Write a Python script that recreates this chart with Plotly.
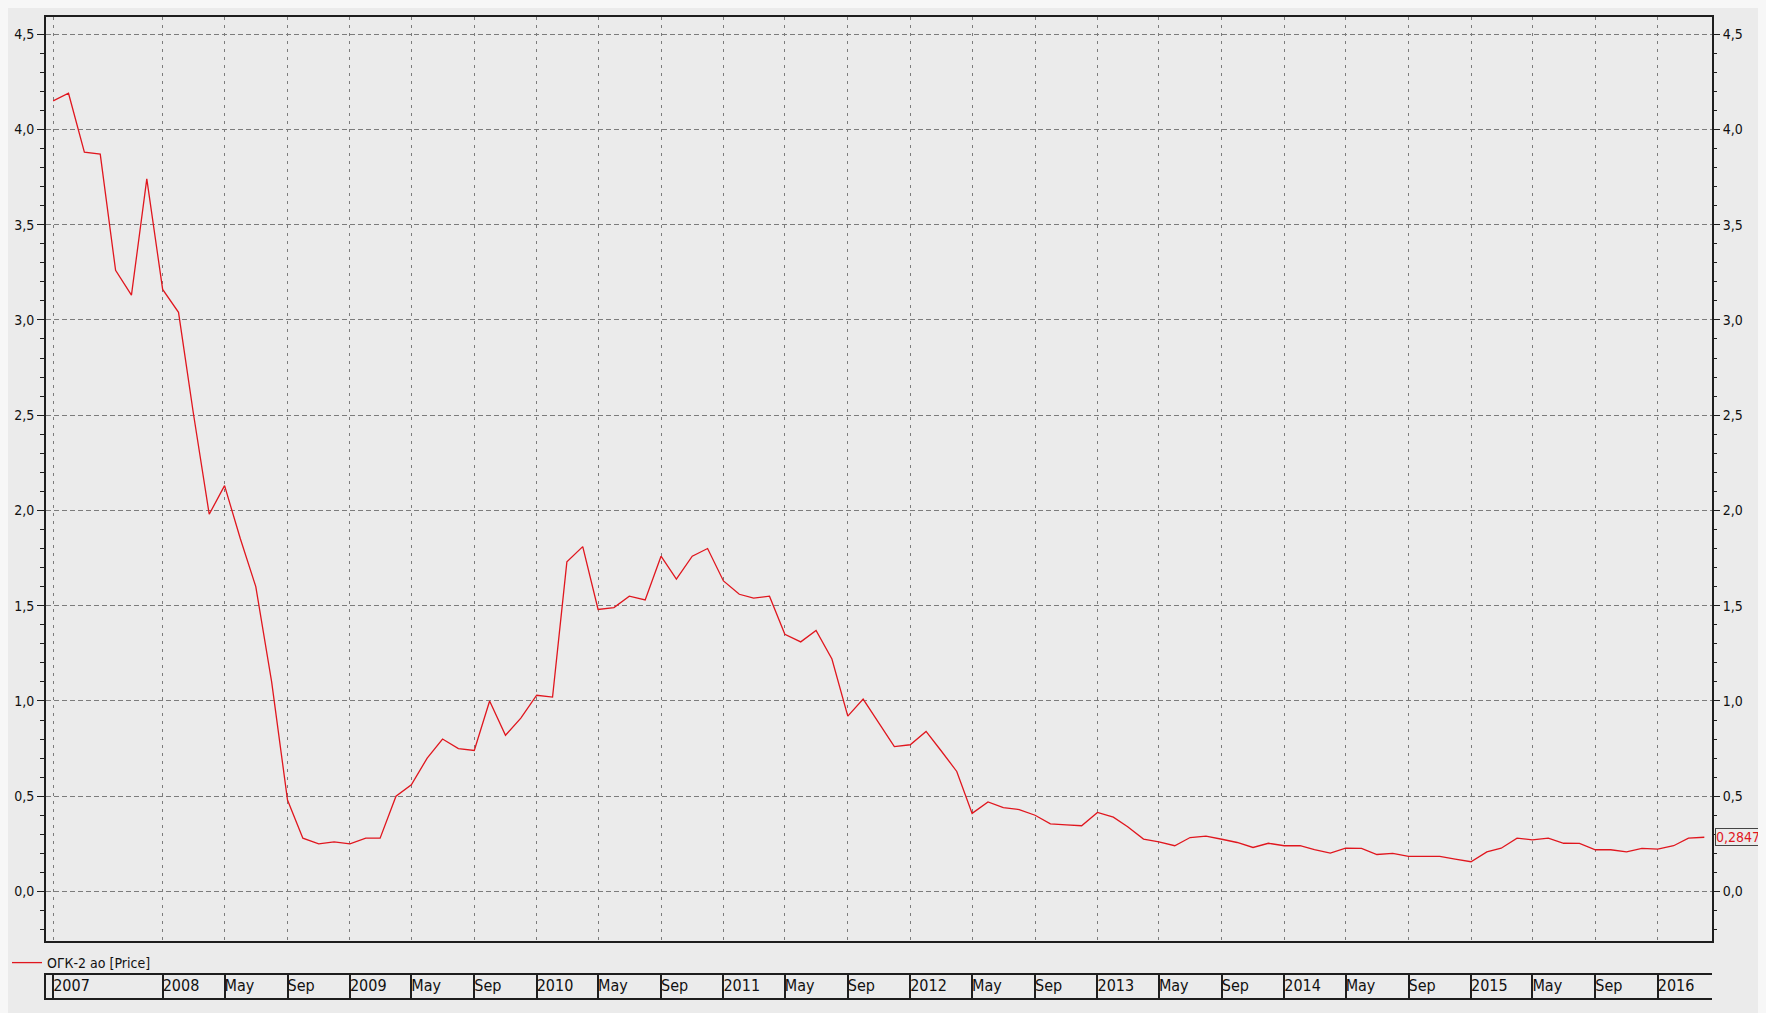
import plotly.graph_objects as go
import pandas as pd

# ---------------- data (monthly closing price, Jun 2007 .. Apr 2016) ----------------
START_MONTH = "2007-06-01"
price_2007 = [4.15, 4.19, 3.88, 3.87, 3.26, 3.13, 3.74]                     # Jun..Dec
price_2008 = [3.16, 3.04, 2.51, 1.98, 2.13, 1.85, 1.60, 1.10, 0.48, 0.28, 0.25, 0.26]
price_2009 = [0.25, 0.28, 0.28, 0.50, 0.56, 0.70, 0.80, 0.75, 0.74, 1.00, 0.82, 0.91]
price_2010 = [1.03, 1.02, 1.73, 1.81, 1.48, 1.49, 1.55, 1.53, 1.76, 1.64, 1.76, 1.80]
price_2011 = [1.63, 1.56, 1.54, 1.55, 1.35, 1.31, 1.37, 1.22, 0.92, 1.01, 0.88, 0.76]
price_2012 = [0.77, 0.84, 0.74, 0.63, 0.41, 0.47, 0.44, 0.43, 0.40, 0.355, 0.35, 0.345]
price_2013 = [0.415, 0.39, 0.34, 0.275, 0.26, 0.24, 0.283, 0.29, 0.274, 0.257, 0.231, 0.253]
price_2014 = [0.24, 0.24, 0.219, 0.201, 0.227, 0.226, 0.194, 0.20, 0.184, 0.184, 0.184, 0.17]
price_2015 = [0.156, 0.208, 0.227, 0.28, 0.271, 0.28, 0.253, 0.252, 0.219, 0.219, 0.208, 0.226]
price_2016 = [0.222, 0.24, 0.28, 0.2847]                                     # Jan..Apr

prices = (price_2007 + price_2008 + price_2009 + price_2010 + price_2011 +
          price_2012 + price_2013 + price_2014 + price_2015 + price_2016)
dates = pd.date_range(START_MONTH, periods=len(prices), freq="MS")

series_name = "ОГК-2 ао [Price]"
last_value_label = "0,2847"

# date band (grid positions and labels)
band_dates = ["2007-06-01",
              "2008-01-01", "2008-05-01", "2008-09-01",
              "2009-01-01", "2009-05-01", "2009-09-01",
              "2010-01-01", "2010-05-01", "2010-09-01",
              "2011-01-01", "2011-05-01", "2011-09-01",
              "2012-01-01", "2012-05-01", "2012-09-01",
              "2013-01-01", "2013-05-01", "2013-09-01",
              "2014-01-01", "2014-05-01", "2014-09-01",
              "2015-01-01", "2015-05-01", "2015-09-01",
              "2016-01-01"]
band_labels = ["2007",
               "2008", "May", "Sep",
               "2009", "May", "Sep",
               "2010", "May", "Sep",
               "2011", "May", "Sep",
               "2012", "May", "Sep",
               "2013", "May", "Sep",
               "2014", "May", "Sep",
               "2015", "May", "Sep",
               "2016"]

x_range = ["2007-05-18", "2016-04-16"]
y_range = [-0.26, 4.59]

# ---------------- style ----------------
FONT = "DejaVu Sans Condensed, Liberation Sans Narrow, Arial Narrow, sans-serif"
BG = "#ebebeb"
AXC = "#1e1e1e"
GRIDC = "#7c7c7c"
RED = "#e0161e"

# the page body keeps its default 8 px margin (white strip at top / left)
W, H = 1758, 1005
ML, MR, MT, MB = 38, 54, 9, 15
PH = H - MT - MB
main_bottom = (H - MB - 933) / PH
band_top = (H - MB - 967) / PH

fig = go.Figure()
fig.add_trace(go.Scatter(x=dates, y=prices, mode="lines", name=series_name,
                         line=dict(color=RED, width=1.3), xaxis="x", yaxis="y"))
# same series bound to the right-hand axis (invisible) so that axis is drawn
fig.add_trace(go.Scatter(x=dates, y=prices, mode="lines", showlegend=False,
                         opacity=0, hoverinfo="skip", xaxis="x", yaxis="y2"))
# date band labels
fig.add_trace(go.Scatter(x=band_dates, y=[0.5] * len(band_dates), mode="text",
                         text=band_labels, textposition="middle right",
                         textfont=dict(family=FONT, size=16, color="#111"),
                         showlegend=False, hoverinfo="skip", xaxis="x2", yaxis="y3"))

ytick_common = dict(range=y_range, tick0=0, dtick=0.5, tickformat=".1f",
                    ticks="outside", ticklen=7, tickwidth=1, tickcolor=AXC,
                    minor=dict(dtick=0.1, tick0=0, ticks="outside", ticklen=4,
                               tickwidth=1, tickcolor=AXC, showgrid=False),
                    tickfont=dict(family=FONT, size=14, color="#111"),
                    zeroline=False, fixedrange=True, automargin=False)

fig.update_layout(
    width=W, height=H,
    margin=dict(l=ML, r=MR, t=MT, b=MB, pad=0, autoexpand=False),
    paper_bgcolor=BG, plot_bgcolor=BG,
    separators=", ",
    font=dict(family=FONT, size=14, color="#111"),
    showlegend=True,
    legend=dict(x=(-1 - ML) / (W - ML - MR), xanchor="left",
                y=(H - MB - 955) / PH, yanchor="middle",
                orientation="h", bgcolor="rgba(0,0,0,0)", borderwidth=0,
                font=dict(family=FONT, size=14, color="#111"), itemwidth=30),
    xaxis=dict(type="date", range=x_range, domain=[0, 1], anchor="y",
               tickvals=band_dates, showticklabels=False, ticks="",
               showgrid=True, gridcolor=GRIDC, gridwidth=1, griddash="3px,5px",
               showline=True, linecolor=AXC, linewidth=2, mirror=True,
               zeroline=False, automargin=False),
    yaxis=dict(domain=[main_bottom, 1], anchor="x", side="left",
               showgrid=True, gridcolor=GRIDC, gridwidth=1, griddash="5px,3px",
               showline=True, linecolor=AXC, linewidth=2, mirror=True,
               **ytick_common),
    yaxis2=dict(overlaying="y", side="right", anchor="x", showgrid=False,
                showline=False, **ytick_common),
    xaxis2=dict(type="date", matches="x", domain=[0, 1], anchor="y3",
                tickvals=band_dates, showticklabels=False, ticks="",
                showgrid=True, gridcolor=AXC, gridwidth=1.5,
                showline=True, linecolor=AXC, linewidth=2, mirror=True,
                zeroline=False, automargin=False),
    yaxis3=dict(domain=[0, band_top], anchor="x2", range=[0, 1],
                showticklabels=False, ticks="", showgrid=False, zeroline=False,
                showline=True, linecolor=AXC, linewidth=2, mirror=False,
                fixedrange=True, automargin=False),
    annotations=[dict(x=1, xref="paper", xshift=3, xanchor="left",
                      y=prices[-1], yref="y", yanchor="middle",
                      text=last_value_label, showarrow=False,
                      font=dict(family=FONT, size=14, color=RED),
                      bordercolor="#444", borderwidth=1, borderpad=0,
                      bgcolor=BG)],
)

fig.write_html("out.html",
               post_script="document.body.style.overflow='hidden';"
                           "document.body.style.background='#f7f7f7';")
